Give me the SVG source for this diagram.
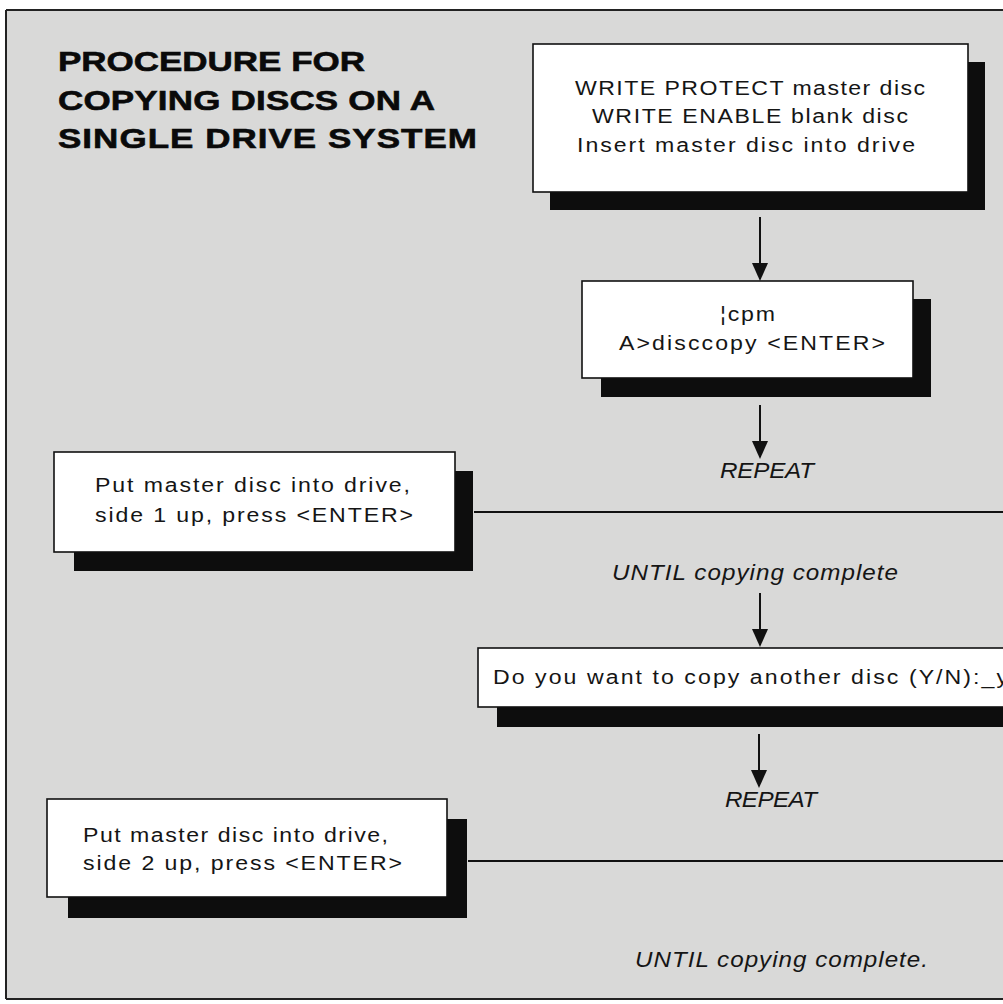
<svg xmlns="http://www.w3.org/2000/svg" width="1003" height="1004" viewBox="0 0 1003 1004">
  <defs>
    <style>
      .box { fill: #ffffff; stroke: #111; stroke-width: 1.6; }
      .shadow { fill: #0d0d0d; }
      .t { font-family: "Liberation Sans", Arial, sans-serif; font-size: 21px; fill: #151515; }
      .it { font-family: "Liberation Sans", Arial, sans-serif; font-size: 22px; font-style: italic; fill: #151515; }
      .title { font-family: "Liberation Sans", Arial, sans-serif; font-size: 28px; font-weight: bold; fill: #0a0a0a; stroke: #0a0a0a; stroke-width: 0.6; }
      .conn { stroke: #111; stroke-width: 2; fill: none; }
    </style>
    <marker id="arrow" markerUnits="userSpaceOnUse" markerWidth="18" markerHeight="20" refX="16" refY="8" orient="auto">
      <path d="M0,0 L18,8 L0,16 Z" fill="#111"/>
    </marker>
  </defs>

  <rect x="0" y="0" width="1003" height="1004" fill="#ffffff"/>
  <rect x="6" y="10" width="997" height="989" fill="#d9d9d8"/>
  <line x1="6" y1="10" x2="1003" y2="10" stroke="#222" stroke-width="2"/>
  <line x1="6" y1="10" x2="6" y2="999" stroke="#222" stroke-width="2"/>
  <line x1="6" y1="999" x2="1003" y2="999" stroke="#222" stroke-width="2"/>

  <g id="title">
    <text class="title" transform="scale(1.25,1)" x="46.4" y="71" textLength="245.6" lengthAdjust="spacing">PROCEDURE FOR</text>
    <text class="title" transform="scale(1.25,1)" x="46.4" y="110" textLength="301.6" lengthAdjust="spacing">COPYING DISCS ON A</text>
    <text class="title" transform="scale(1.25,1)" x="46.4" y="148" textLength="335.2" lengthAdjust="spacing">SINGLE DRIVE SYSTEM</text>
  </g>

  <g id="connectors">
    <line class="conn" x1="760" y1="217" x2="760" y2="279" marker-end="url(#arrow)"/>
    <line class="conn" x1="760" y1="405" x2="760" y2="457" marker-end="url(#arrow)"/>
    <line class="conn" x1="760" y1="593" x2="760" y2="645" marker-end="url(#arrow)"/>
    <line class="conn" x1="759" y1="734" x2="759" y2="786" marker-end="url(#arrow)"/>
    <line class="conn" x1="474" y1="512" x2="1003" y2="512"/>
    <line class="conn" x1="468" y1="861" x2="1003" y2="861"/>
  </g>

  <g id="node-start">
    <rect class="shadow" x="550" y="62" width="435" height="148"/>
    <rect class="box" x="533" y="44" width="435" height="148"/>
    <text class="t" transform="scale(1.1,1)" x="522.73" y="95" textLength="318.18" lengthAdjust="spacing">WRITE PROTECT master disc</text>
    <text class="t" transform="scale(1.1,1)" x="538.18" y="123" textLength="287.27" lengthAdjust="spacing">WRITE ENABLE blank disc</text>
    <text class="t" transform="scale(1.1,1)" x="524.55" y="152" textLength="307.27" lengthAdjust="spacing">Insert master disc into drive</text>
  </g>

  <g id="node-cpm">
    <rect class="shadow" x="601" y="299" width="330" height="98"/>
    <rect class="box" x="582" y="281" width="331" height="97"/>
    <text class="t" transform="scale(1.1,1)" x="654.55" y="321" textLength="50" lengthAdjust="spacing">¦cpm</text>
    <text class="t" transform="scale(1.1,1)" x="562.73" y="350" textLength="241.82" lengthAdjust="spacing">A&gt;disccopy &lt;ENTER&gt;</text>
  </g>

  <g id="label-repeat-1">
    <text class="it" transform="scale(1.1,1)" x="654.55" y="478" textLength="85.45" lengthAdjust="spacing">REPEAT</text>
  </g>

  <g id="node-side1">
    <rect class="shadow" x="74" y="471" width="399" height="100"/>
    <rect class="box" x="54" y="452" width="401" height="100"/>
    <text class="t" transform="scale(1.1,1)" x="86.36" y="492" textLength="286.36" lengthAdjust="spacing">Put master disc into drive,</text>
    <text class="t" transform="scale(1.1,1)" x="86.36" y="522" textLength="289.09" lengthAdjust="spacing">side 1 up, press &lt;ENTER&gt;</text>
  </g>

  <g id="label-until-1">
    <text class="it" transform="scale(1.1,1)" x="556.36" y="580" textLength="260" lengthAdjust="spacing">UNTIL copying complete</text>
  </g>

  <g id="node-another">
    <rect class="shadow" x="497" y="668" width="530" height="59"/>
    <rect class="box" x="478" y="648" width="540" height="59"/>
    <text class="t" transform="scale(1.1,1)" x="448.18" y="684" textLength="468.18" lengthAdjust="spacing">Do you want to copy another disc (Y/N):_y</text>
  </g>

  <g id="label-repeat-2">
    <text class="it" transform="scale(1.1,1)" x="659.09" y="807" textLength="83.64" lengthAdjust="spacing">REPEAT</text>
  </g>

  <g id="node-side2">
    <rect class="shadow" x="68" y="819" width="399" height="99"/>
    <rect class="box" x="47" y="799" width="400" height="98"/>
    <text class="t" transform="scale(1.1,1)" x="75.45" y="842" textLength="277.27" lengthAdjust="spacing">Put master disc into drive,</text>
    <text class="t" transform="scale(1.1,1)" x="75.45" y="870" textLength="290" lengthAdjust="spacing">side 2 up, press &lt;ENTER&gt;</text>
  </g>

  <g id="label-until-2">
    <text class="it" transform="scale(1.1,1)" x="577.27" y="967" textLength="266.36" lengthAdjust="spacing">UNTIL copying complete.</text>
  </g>
</svg>
